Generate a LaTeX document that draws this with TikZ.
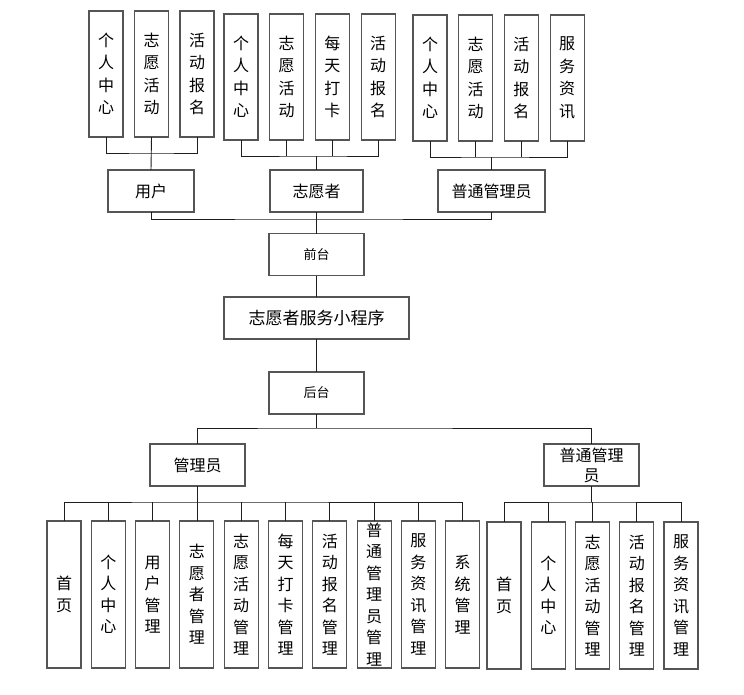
\documentclass[tikz,border=0pt]{standalone}
\usepackage{fontspec}
\setmainfont{Noto Sans CJK SC}
\usetikzlibrary{positioning}
\definecolor{boxgray}{RGB}{85,85,85}
\definecolor{linegray}{RGB}{30,30,30}

\begin{document}
\begin{tikzpicture}[
    x=1pt, y=-1pt,
    colbox/.style={
        draw=boxgray,
        line width=1.1pt,
        minimum width=34pt,
        minimum height=126pt,
        inner sep=0pt,
        outer sep=0pt,
        align=center,
        font=\fontsize{16}{22.5}\selectfont
    },
    tallbox/.style={
        colbox,
        minimum height=147pt,
        font=\fontsize{16}{21.5}\selectfont
    },
    rowbox/.style={
        draw=boxgray,
        line width=1.1pt,
        minimum height=42pt,
        inner sep=0pt,
        outer sep=0pt,
        align=center,
        font=\fontsize{16}{20}\selectfont
    },
    link/.style={
        draw=linegray,
        line width=0.9pt
    }
]
\useasboundingbox (0,0) rectangle (744,694);

% top row
\node[colbox] (u1) at (106,74) {个\\人\\中\\心};
\node[colbox, right=11.5pt of u1] (u2) {志\\愿\\活\\动};
\node[colbox, right=11.5pt of u2] (u3) {活\\动\\报\\名};

\node[colbox] (v1) at (241,77) {个\\人\\中\\心};
\node[colbox, right=11.7pt of v1] (v2) {志\\愿\\活\\动};
\node[colbox, right=11.7pt of v2] (v3) {每\\天\\打\\卡};
\node[colbox, right=11.7pt of v3] (v4) {活\\动\\报\\名};

\node[colbox] (g1) at (430,78) {个\\人\\中\\心};
\node[colbox, right=11.7pt of g1] (g2) {志\\愿\\活\\动};
\node[colbox, right=11.7pt of g2] (g3) {活\\动\\报\\名};
\node[colbox, right=11.7pt of g3] (g4) {服\\务\\资\\讯};

% roles
\node[rowbox, minimum width=86pt] (user) at (151,191) {用户};
\node[rowbox, minimum width=93pt] (vol) at (316.5,191) {志愿者};
\node[rowbox, minimum width=107pt] (gadmin) at (491.5,191) {普通管理员};

% middle column
\node[rowbox, minimum width=95pt, font=\fontsize{13}{15}\selectfont] (front) at (316.5,254.5) {前台};
\node[rowbox, minimum width=185pt, font=\fontsize{17}{20}\selectfont] (app) at (316.5,318) {志愿者服务小程序};
\node[rowbox, minimum width=95pt, font=\fontsize{13}{15}\selectfont] (back) at (316.5,393) {后台};

\node[rowbox, minimum width=95pt] (mgr) at (197.5,465) {管理员};
\node[rowbox, minimum width=95pt] (smgr) at (591.5,465) {普通管理\\员};

% bottom row
\node[tallbox] (m1) at (64,594.5) {首\\页};
\node[tallbox, right=10.3pt of m1] (m2) {个\\人\\中\\心};
\node[tallbox, right=10.3pt of m2] (m3) {用\\户\\管\\理};
\node[tallbox, right=10.3pt of m3] (m4) {志\\愿\\者\\管\\理};
\node[tallbox, right=10.3pt of m4] (m5) {志\\愿\\活\\动\\管\\理};
\node[tallbox, right=10.3pt of m5] (m6) {每\\天\\打\\卡\\管\\理};
\node[tallbox, right=10.3pt of m6] (m7) {活\\动\\报\\名\\管\\理};
\node[tallbox, right=10.3pt of m7] (m8) {普\\通\\管\\理\\员\\管\\理};
\node[tallbox, right=10.3pt of m8] (m9) {服\\务\\资\\讯\\管\\理};
\node[tallbox, right=10.3pt of m9] (m10) {系\\统\\管\\理};

\node[tallbox] (s1) at (504,595.5) {首\\页};
\node[tallbox, right=10.25pt of s1] (s2) {个\\人\\中\\心};
\node[tallbox, right=10.25pt of s2] (s3) {志\\愿\\活\\动\\管\\理};
\node[tallbox, right=10.25pt of s3] (s4) {活\\动\\报\\名\\管\\理};
\node[tallbox, right=10.25pt of s4] (s5) {服\\务\\资\\讯\\管\\理};

% junctions
\coordinate (ubus) at (151,153);
\coordinate (vbus) at (316.5,156);
\coordinate (gbus) at (491.5,157);
\coordinate (fbus) at (316.5,219);
\coordinate (bbus) at (316.5,428);
\coordinate (mbus) at (197.5,502);
\coordinate (sbus) at (591.5,502);

% connectors
\draw[link] (u1.south) |- (ubus) -| (u3.south);
\draw[link] (u2.south) -- (user.north);

\draw[link] (v1.south) |- (vbus) -| (v4.south);
\draw[link] (v2.south) -- (v2.south |- vbus);
\draw[link] (v3.south) -- (v3.south |- vbus);
\draw[link] (vbus) -- (vol.north);

\draw[link] (g1.south) |- (gbus) -| (g4.south);
\draw[link] (g2.south) -- (g2.south |- gbus);
\draw[link] (g3.south) -- (g3.south |- gbus);
\draw[link] (gbus) -- (gadmin.north);

\draw[link] (user.south) |- (fbus) -| (gadmin.south);
\draw[link] (vol.south) -- (front.north);
\draw[link] (front) -- (app);
\draw[link] (app) -- (back);

\draw[link] (mgr.north) |- (bbus) -| (smgr.north);
\draw[link] (back.south) -- (bbus);

\draw[link] (m1.north) |- (mbus) -| (m10.north);
\draw[link, line width=1.4pt] (mgr.south) -- (mbus);
\draw[link] (mbus) -- (mbus |- m4.north);
\draw[link] (m2.north) -- (m2.north |- mbus);
\draw[link] (m3.north) -- (m3.north |- mbus);
\draw[link] (m5.north) -- (m5.north |- mbus);
\draw[link] (m6.north) -- (m6.north |- mbus);
\draw[link] (m7.north) -- (m7.north |- mbus);
\draw[link] (m8.north) -- (m8.north |- mbus);
\draw[link] (m9.north) -- (m9.north |- mbus);

\draw[link] (s1.north) |- (sbus) -| (s5.north);
\draw[link] (smgr.south) -- (sbus);
\draw[link] (s2.north) -- (s2.north |- sbus);
\draw[link] (s3.north) -- (s3.north |- sbus);
\draw[link] (s4.north) -- (s4.north |- sbus);

\end{tikzpicture}
\end{document}
